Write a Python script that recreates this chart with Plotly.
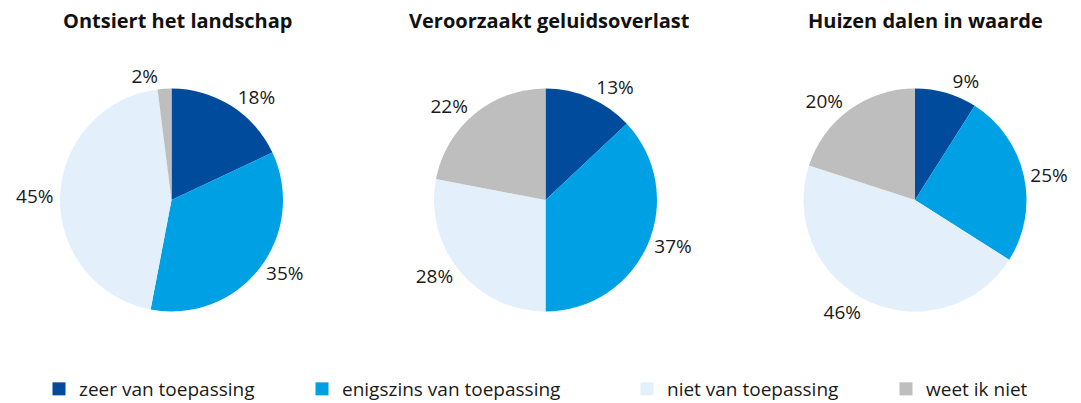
import plotly.graph_objects as go

categories = ["zeer van toepassing", "enigszins van toepassing", "niet van toepassing", "weet ik niet"]
titles = ["Ontsiert het landschap", "Veroorzaakt geluidsoverlast", "Huizen dalen in waarde"]
landschap = [18, 35, 45, 2]
geluidsoverlast = [13, 37, 28, 22]
waarde = [9, 25, 46, 20]
series = [landschap, geluidsoverlast, waarde]
colors = ["#004B9B", "#00A1E4", "#E3F0FB", "#BEBEBE"]

W, H = 1081, 403
FONT = "Open Sans"
pie_cx = [171.5, 545.5, 915.0]
pie_cy = 200.0
radius = 111.5
title_cx = [178, 549, 925]
title_cy = 20
legend_text_x = [79, 342, 667, 926]
legend_cy = 389

fig = go.Figure()
for i, vals in enumerate(series):
    cx = pie_cx[i]
    fig.add_trace(go.Pie(
        labels=categories,
        values=vals,
        sort=False,
        direction="clockwise",
        rotation=0,
        marker=dict(colors=colors, line=dict(width=0)),
        textposition="outside",
        texttemplate="%{value}%",
        textfont=dict(family=FONT, size=19, color="#1a1a1a"),
        showlegend=False,
        hoverinfo="label+value",
        domain=dict(x=[(cx - radius) / W, (cx + radius) / W],
                    y=[1 - (pie_cy + radius) / H, 1 - (pie_cy - radius) / H]),
    ))
    fig.add_annotation(
        text="<b>" + titles[i] + "</b>",
        x=title_cx[i] / W, y=1 - title_cy / H, xref="paper", yref="paper",
        xanchor="center", yanchor="middle", showarrow=False,
        font=dict(family=FONT, size=20, color="#111111"),
    )

legend_names = ["legend", "legend2", "legend3", "legend4"]
for j, cat in enumerate(categories):
    fig.add_trace(go.Scatter(
        x=[None], y=[None], mode="markers", name=cat,
        marker=dict(symbol="square", size=13, color=colors[j]),
        legend=legend_names[j], showlegend=True, hoverinfo="skip",
    ))

layout_legends = {}
for j, ln in enumerate(legend_names):
    layout_legends[ln] = dict(
        x=(legend_text_x[j] - 40) / W, y=1 - legend_cy / H,
        xanchor="left", yanchor="middle", orientation="h",
        font=dict(family=FONT, size=19, color="#1a1a1a"),
        bgcolor="rgba(0,0,0,0)", borderwidth=0,
    )

fig.update_layout(
    width=W, height=H,
    margin=dict(l=0, r=0, t=0, b=0, autoexpand=False),
    paper_bgcolor="white", plot_bgcolor="white",
    font=dict(family=FONT),
    xaxis=dict(visible=False), yaxis=dict(visible=False),
    **layout_legends,
)

fig.write_html(
    "out.html",
    config={"displayModeBar": False},
    post_script="document.body.style.margin='0';document.body.style.overflow='hidden';",
)
